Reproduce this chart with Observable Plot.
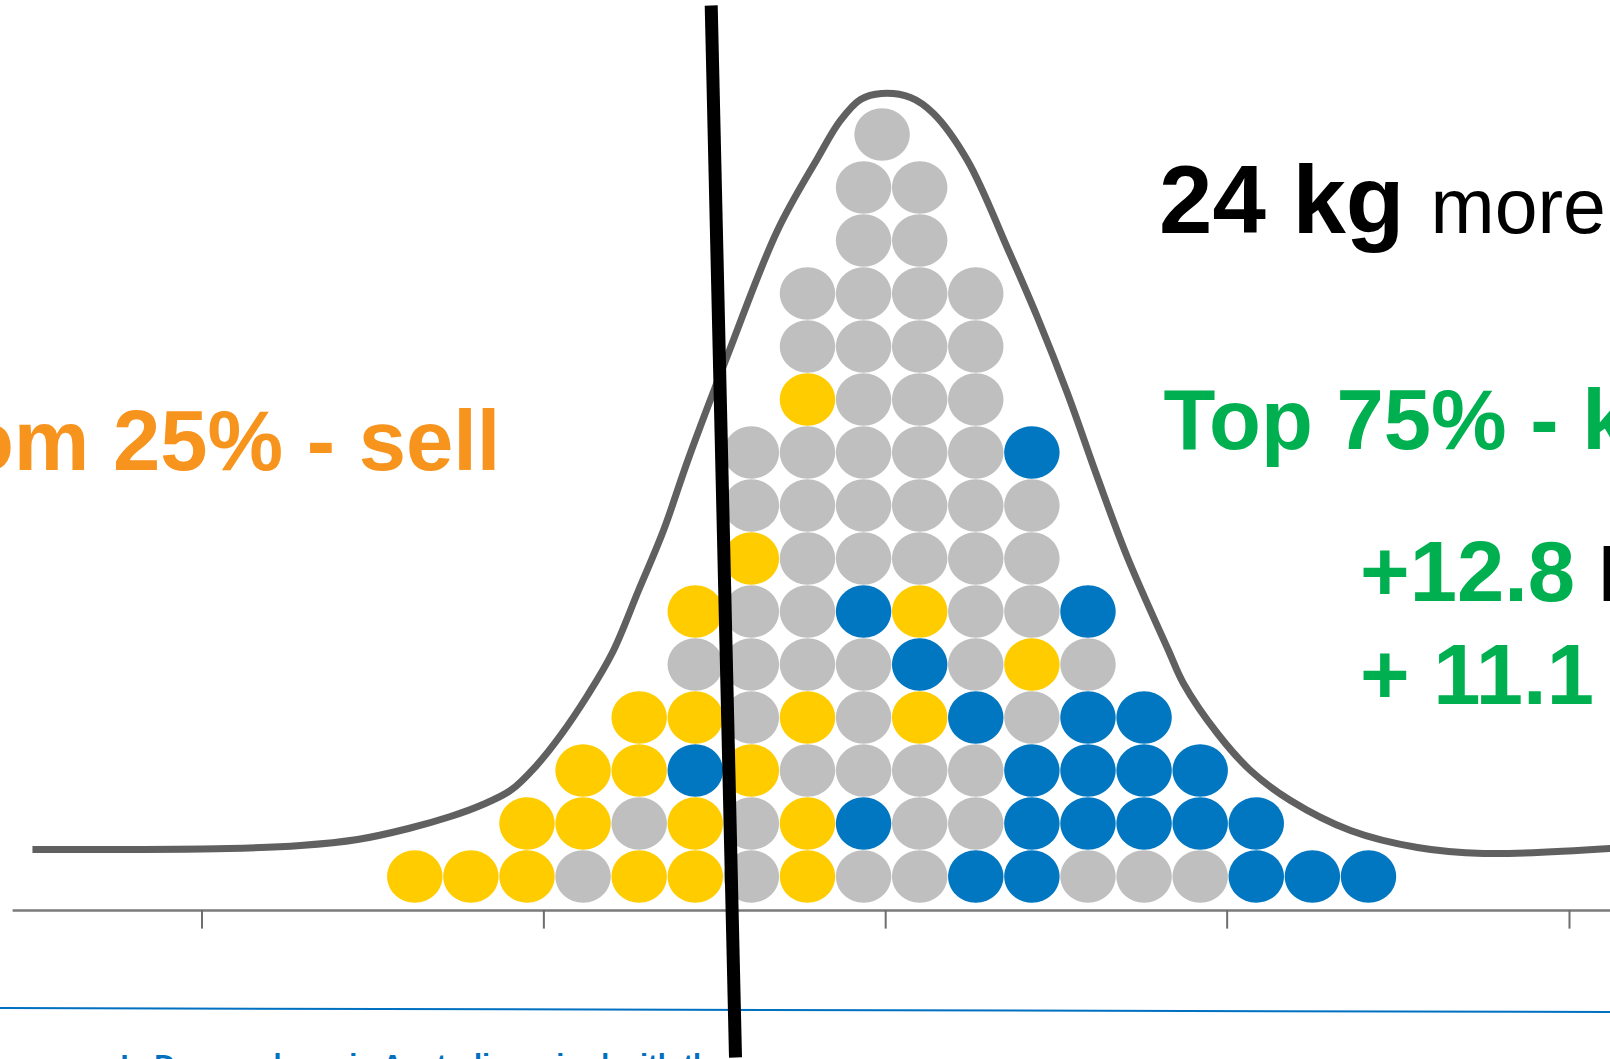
<!DOCTYPE html>
<html>
<head>
<meta charset="utf-8">
<script src="https://cdn.jsdelivr.net/npm/d3@7"></script>
<script src="https://cdn.jsdelivr.net/npm/@observablehq/plot@0.6"></script>
<style>
  html, body { margin: 0; padding: 0; background: #ffffff; overflow: hidden; }
  #chart svg { display: block; }
</style>
</head>
<body>
<div id="chart"></div>
<script>
// ---------------- DATA ----------------
// Each column of the dot plot, colours listed from the bottom dot upward
// Y = yellow (bottom 25 %), G = grey, B = blue
const columnStacks = [
  "Y", "Y", "YY", "GYY", "YGYY", "YYBYGY", "GGYGGGYGG", "YYGYGGGGGYGG",
  "GBGGGBGGGGGGGG", "GGGYBYGGGGGGGG", "BGGBGGGGGGGG", "BBBGYGGGB",
  "GBBBGB", "GBBB", "GBB", "BB", "B", "B"
];
// single dot sitting on top of the stacks
const peakDotCol = [8.33];
const peakDotLevel = [14];
const peakDotColour = ["G"];

// fitted bell curve (x in bin units, y in dot counts)
const curveX = [-6.815, -3.321, -2.037, -1.021, -0.112, 0.636, 1.171, 1.706, 2.169, 2.597,
  3.078, 3.524, 3.988, 4.433, 4.879, 5.574, 6.465, 7.178, 7.588, 7.945, 8.319, 8.836,
  9.246, 9.852, 10.583, 11.100, 11.635, 12.169, 12.704, 13.435, 13.702, 14.308, 14.897,
  15.610, 16.679, 17.873, 19.050, 21.313];
const curveY = [1.009, 1.028, 1.085, 1.198, 1.406, 1.632, 1.840, 2.123, 2.594, 3.160,
  3.915, 4.726, 5.896, 7.028, 8.387, 10.330, 12.689, 14.047, 14.764, 15.160, 15.274, 15.198,
  14.896, 14.009, 12.311, 11.047, 9.613, 8.028, 6.519, 4.764, 4.142, 3.198, 2.500,
  1.934, 1.368, 1.047, 0.934, 1.028];

// axis ticks (mean and ±1, ±2 standard deviations, in bin units)
const tickPositions = [-3.793, 2.301, 8.394, 14.481, 20.583];

// 25 % cut-off line end points
const cutX = [5.284, 5.717];
const cutY = [16.934, -2.915];

// footer separator line end points
const sepX = [-7.385, 21.314];
const sepY = [-1.981, -2.057];

// texts
const leftLabel = ["Bottom 25% - sell"];
const headBold = ["24 kg"];
const headLight = ["more"];
const rightLabel = ["Top 75% - keep"];
const gainA = ["+12.8"];
const gainB = ["+ 11.1"];
const gainUnit = ["kg"];
const footer = ["In Dorper sheep in Australia, paired with the"];

const colourKeys = ["Y", "G", "B"];
const colourValues = ["#FFCC00", "#BFBFBF", "#0077C0"];

// ---------------- BUILD ----------------
const dots = columnStacks.flatMap((s, i) => [...s].map((c, k) => ({x: i, y: k + 0.5, c})))
  .concat(peakDotCol.map((x, i) => ({x, y: peakDotLevel[i] + 0.5, c: peakDotColour[i]})));
const curve = curveX.map((x, i) => ({x, y: curveY[i]}));
const cut = cutX.map((x, i) => ({x, y: cutY[i]}));
const sep = sepX.map((x, i) => ({x, y: sepY[i]}));

// slightly wide ellipse symbol (dots in the original are not perfectly round)
const ellipse = {
  draw(context, size) {
    const r = Math.sqrt(size / Math.PI);
    const rx = r * 1.026, ry = r * 0.97, k = 0.5522847;
    context.moveTo(rx, 0);
    context.bezierCurveTo(rx, ry * k, rx * k, ry, 0, ry);
    context.bezierCurveTo(-rx * k, ry, -rx, ry * k, -rx, 0);
    context.bezierCurveTo(-rx, -ry * k, -rx * k, -ry, 0, -ry);
    context.bezierCurveTo(rx * k, -ry, rx, -ry * k, rx, 0);
    context.closePath();
  }
};

const FONT = "'Liberation Sans', Arial, Helvetica, sans-serif";
const W = 1610, H = 1059, ML = 12.6, MB = 149;
const axisY = -0.1415;

const txt = (data, o) => Plot.text(data, {
  text: d => d, frameAnchor: "top-left", lineAnchor: "bottom", fontFamily: FONT, ...o,
  dx: o.px - ML, dy: o.py
});

const chart = Plot.plot({
  width: W,
  height: H,
  marginLeft: ML,
  marginRight: 0,
  marginTop: 0,
  marginBottom: MB,
  style: {background: "#ffffff", fontFamily: FONT, overflow: "visible"},
  x: {domain: [-7.160, 21.314], axis: null},
  y: {domain: [axisY, 17.028], axis: null},
  color: {type: "ordinal", domain: colourKeys, range: colourValues},
  marks: [
    // axis line and ticks
    Plot.ruleY([axisY], {x1: -7.160, x2: 21.314, stroke: "#7A7A7A", strokeWidth: 2.5}),
    Plot.ruleX(tickPositions, {x: d => d, y1: axisY, y2: axisY - 0.351, stroke: "#6E6E6E", strokeWidth: 2}),
    // bell curve
    Plot.line(curve, {x: "x", y: "y", stroke: "#606060", strokeWidth: 7, curve: "catmull-rom", strokeLinecap: "butt"}),
    // dots
    Plot.dot(dots, {x: "x", y: "y", fill: "c", stroke: "none", r: 27, symbol: ellipse}),
    // footer separator
    Plot.line(sep, {x: "x", y: "y", stroke: "#0070C0", strokeWidth: 2}),
    // cut-off line
    Plot.line(cut, {x: "x", y: "y", stroke: "#000000", strokeWidth: 13, strokeLinecap: "butt"}),
    // texts
    txt(leftLabel, {px: 500, py: 469, textAnchor: "end", fontSize: 85, fontWeight: "bold", fill: "#F7941E"}),
    txt(headBold, {px: 1158.5, py: 232.6, textAnchor: "start", fontSize: 96, fontWeight: "bold", fill: "#000000"}),
    txt(headLight, {px: 1430, py: 232.6, textAnchor: "start", fontSize: 77, fill: "#000000"}),
    txt(rightLabel, {px: 1163, py: 448.8, textAnchor: "start", fontSize: 85, fontWeight: "bold", fill: "#00B050"}),
    txt(gainA, {px: 1359.5, py: 600.7, textAnchor: "start", fontSize: 85, fontWeight: "bold", fill: "#00B050"}),
    txt(gainUnit, {px: 1598, py: 600.7, textAnchor: "start", fontSize: 76, fill: "#000000"}),
    txt(gainB, {px: 1359.5, py: 703, textAnchor: "start", fontSize: 85, fontWeight: "bold", fill: "#00B050"}),
    txt(footer, {px: 120, py: 1074, textAnchor: "start", fontSize: 29, fontWeight: "bold", fill: "#0070C0"})
  ]
});

document.getElementById("chart").appendChild(chart);
</script>
</body>
</html>
